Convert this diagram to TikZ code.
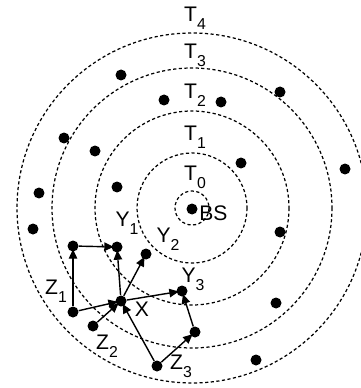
\documentclass[tikz,border=0pt]{standalone}
\usepackage{fontspec}
\setmainfont{Liberation Sans}
\usepackage{tikz}
\usetikzlibrary{arrows.meta}

% label with lowered index
\newcommand{\lblsub}[2]{#1\raisebox{-0.7ex}{\fontsize{9}{10}\selectfont #2}}

\begin{document}
\begin{tikzpicture}[
  x=0.02cm, y=-0.02cm,
  ring/.style={draw, dashed, dash pattern=on 1.8pt off 1.4pt, line width=0.7pt},
  sensor/.style={circle, fill=black, inner sep=0pt, minimum size=0.22cm},
  lbl/.style={font=\fontsize{12}{14}\selectfont, inner sep=0pt},
  arr/.style={-{Triangle[length=5.4pt,width=4.8pt]}, line width=0.8pt, shorten >=-1.5pt}
]
\useasboundingbox (0,0) rectangle (361,388);
\clip (0,0) rectangle (361,388);

% Rings round the base station
\coordinate (c) at (192,208);
\foreach \r in {17,55,97,140,175}
  \draw[ring] (c) circle[radius=\r];

% Ring labels
\node[lbl] (t4) at (195,18) {\lblsub{T}{4}};
\node[lbl] (t3) at (195,55) {\lblsub{T}{3}};
\node[lbl] (t2) at (195,95) {\lblsub{T}{2}};
\node[lbl] (t1) at (195,137) {\lblsub{T}{1}};
\node[lbl] (t0) at (195,177) {\lblsub{T}{0}};

% Base station
\node[sensor] (bs) at (192,209) {};
\node[lbl, anchor=west] (bslbl) at (199,213) {BS};

% Other sensors
\node[sensor] (s1) at (121,75) {};
\node[sensor] (s2) at (164,100) {};
\node[sensor] (s3) at (221,102) {};
\node[sensor] (s4) at (280,92) {};
\node[sensor] (s5) at (64,138) {};
\node[sensor] (s6) at (95,151) {};
\node[sensor] (s7) at (241,163) {};
\node[sensor] (s8) at (345,169) {};
\node[sensor] (s9) at (117,187) {};
\node[sensor] (s10) at (39,193) {};
\node[sensor] (s11) at (33,229) {};
\node[sensor] (s12) at (280,232) {};
\node[sensor] (s13) at (276,303) {};
\node[sensor] (s14) at (256,360) {};

% Forwarding nodes
\node[sensor] (x) at (121,301) {};
\node[sensor] (y1) at (117,247) {};
\node[sensor] (y2) at (146,254) {};
\node[sensor] (y3) at (182,291) {};
\node[sensor] (z1a) at (73,312) {};
\node[sensor] (z1b) at (73,246) {};
\node[sensor] (z2) at (93,326) {};
\node[sensor] (z3a) at (157,366) {};
\node[sensor] (z3b) at (195,332) {};

% Node labels
\node[lbl] (xl) at (142,309) {X};
\node[lbl] (y1l) at (127,223) {\lblsub{Y}{1}};
\node[lbl] (y2l) at (168,239) {\lblsub{Y}{2}};
\node[lbl] (y3l) at (193,279) {\lblsub{Y}{3}};
\node[lbl] (z1l) at (56,291) {\lblsub{Z}{1}};
\node[lbl] (z2l) at (107,346) {\lblsub{Z}{2}};
\node[lbl] (z3l) at (181,366) {\lblsub{Z}{3}};

% Links
\foreach \a/\b in {z1a/z1b, z1b/y1, z1a/x, z2/x, z3a/x, x/y1, x/y2, x/y3, z3a/z3b, z3b/y3}
  \draw[arr] (\a) -- (\b);
\end{tikzpicture}
\end{document}
